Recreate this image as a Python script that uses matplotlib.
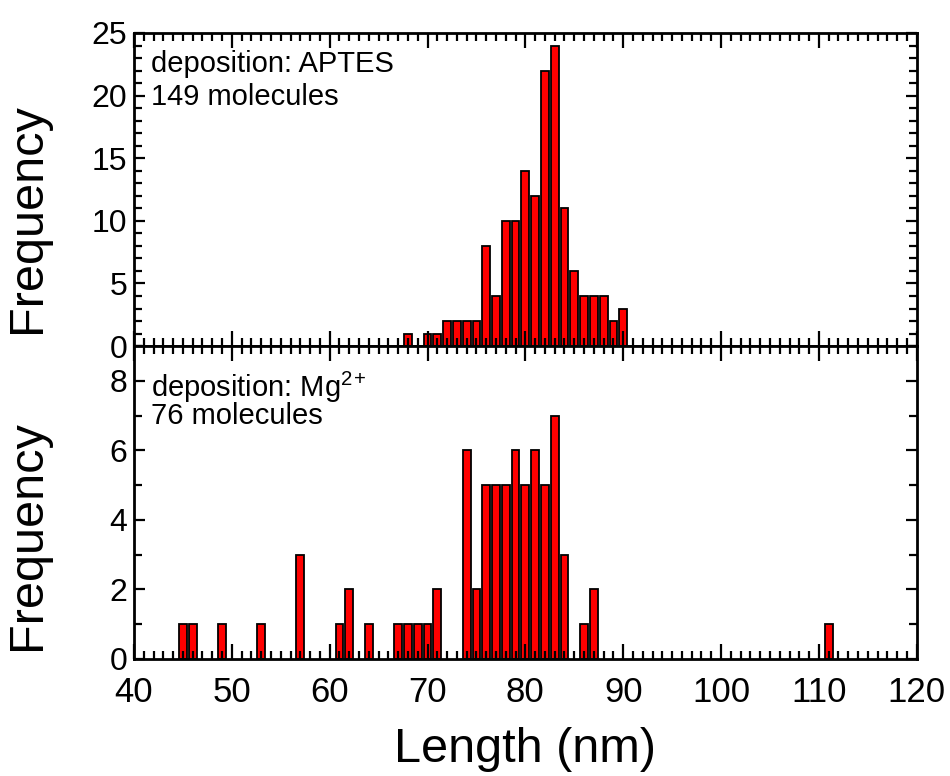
import numpy as np
import matplotlib
matplotlib.use("Agg")
import matplotlib.pyplot as plt
from matplotlib.ticker import MultipleLocator

plt.rcParams['font.family'] = ['Liberation Sans', 'DejaVu Sans']
plt.rcParams['mathtext.fontset'] = 'custom'
plt.rcParams['mathtext.rm'] = 'Liberation Sans'
plt.rcParams['mathtext.it'] = 'Liberation Sans:italic'

# APTES deposition: bin centre (nm) and counts
aptes_len = [68, 70, 71, 72, 73, 74, 75, 76, 77, 78, 79, 80, 81, 82, 83, 84, 85, 86, 87, 88, 89, 90]
aptes_cnt = [1, 1, 1, 2, 2, 2, 2, 8, 4, 10, 10, 14, 12, 22, 24, 11, 6, 4, 4, 4, 2, 3]

# Mg2+ deposition
mg_len = [45, 46, 49, 53, 57, 61, 62, 64, 67, 68, 69, 70, 71, 74, 75, 76, 77, 78, 79, 80,
          81, 82, 83, 84, 86, 87, 111]
mg_cnt = [1, 1, 1, 1, 3, 1, 2, 1, 1, 1, 1, 1, 2, 6, 2, 5, 5, 5, 6, 5,
          6, 5, 7, 3, 1, 2, 1]

labels_top = ["deposition: APTES", "149 molecules"]
labels_bot = ["deposition: Mg$^{2}$$^{+}$", "76 molecules"]

fig = plt.figure(figsize=(9.5, 7.76), dpi=100)
ax1 = fig.add_axes([0.141, 0.554, 0.824, 0.4035])
ax2 = fig.add_axes([0.141, 0.1508, 0.824, 0.4032])

def style(ax, ymax, ymaj, ymin):
    ax.set_xlim(40, 120)
    ax.set_ylim(0, ymax)
    ax.xaxis.set_major_locator(MultipleLocator(10))
    ax.xaxis.set_minor_locator(MultipleLocator(1))
    ax.yaxis.set_major_locator(MultipleLocator(ymaj))
    ax.yaxis.set_minor_locator(MultipleLocator(ymin))
    ax.tick_params(which='both', direction='in', top=True, right=True, width=1.6)
    ax.tick_params(which='major', axis='x', length=11)
    ax.tick_params(which='minor', axis='x', length=6)
    ax.tick_params(which='major', axis='y', length=8)
    ax.tick_params(which='minor', axis='y', length=6)
    ax.tick_params(axis='y', labelsize=23, pad=5)
    ax.tick_params(axis='x', labelsize=25, pad=12)
    for s in ax.spines.values():
        s.set_linewidth(2)
    ax.set_ylabel("Frequency", fontsize=35)

ax1.bar(aptes_len, aptes_cnt, width=0.8, color='#ff0000', edgecolor='black', linewidth=1.3)
ax2.bar(mg_len, mg_cnt, width=0.8, color='#ff0000', edgecolor='black', linewidth=1.3)

style(ax1, 25, 5, 1)
style(ax2, 9, 2, 1)
ax1.tick_params(labelbottom=False)

ax2.set_xlabel("Length (nm)", fontsize=35, labelpad=13)
ax1.yaxis.set_label_coords(-0.107, 0.41)
ax2.yaxis.set_label_coords(-0.107, 0.396)

ax1.text(0.022, 0.945, labels_top[0], transform=ax1.transAxes, fontsize=21, va='top')
ax1.text(0.022, 0.84, labels_top[1], transform=ax1.transAxes, fontsize=21, va='top')
ax2.text(0.022, 0.925, labels_bot[0], transform=ax2.transAxes, fontsize=21, va='top')
ax2.text(0.022, 0.82, labels_bot[1], transform=ax2.transAxes, fontsize=21, va='top')

fig.savefig("out.png", dpi=100)
